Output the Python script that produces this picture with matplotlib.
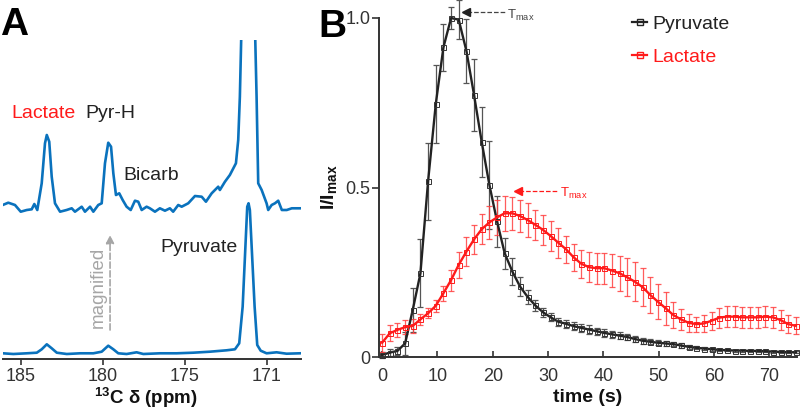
#!/usr/bin/env python3
"""13C spectrum (A) and pyruvate / lactate time curves (B)."""

import matplotlib
matplotlib.use("Agg")
import matplotlib.pyplot as plt
from matplotlib.lines import Line2D

plt.rcParams["font.family"] = ["Liberation Sans", "DejaVu Sans"]
plt.rcParams["mathtext.fontset"] = "custom"
plt.rcParams["mathtext.rm"] = "Liberation Sans"
plt.rcParams["mathtext.bf"] = "Liberation Sans:bold"

# ---- panel A: spectra (ppm, intensity in arbitrary units) ----
upper_ppm = [186.10, 185.76, 185.35, 185.00, 184.63, 184.33, 184.17, 183.99, 183.72,
             183.52, 183.41, 183.26, 183.11, 182.91, 182.60, 182.20, 181.89, 181.69,
             181.28, 181.08, 180.77, 180.57, 180.27, 180.06, 179.86, 179.66, 179.49,
             179.35, 179.19, 178.99, 178.78, 178.54, 178.29, 178.03, 177.83, 177.62,
             177.32, 177.12, 176.81, 176.51, 176.20, 175.90, 175.70, 175.39, 175.18,
             174.78, 174.37, 173.96, 173.70, 173.35, 172.95, 172.85, 172.54, 172.24,
             171.87, 171.73, 171.63, 171.55, 171.14, 170.69, 170.61, 170.51, 170.30,
             170.00, 169.90, 169.69, 169.49, 169.29, 169.07, 168.77, 168.46, 167.96]
upper_int = [154.3, 156.6, 154.3, 147.6, 149.3, 150.0, 155.3, 149.3, 176.0,
             216.0, 224.3, 217.6, 182.6, 156.0, 147.6, 149.3, 151.0, 147.6,
             152.6, 147.6, 152.6, 147.6, 154.3, 156.0, 196.0, 216.6, 212.6,
             186.0, 164.3, 166.0, 159.3, 152.6, 149.3, 158.6, 157.6, 149.3,
             152.6, 151.0, 147.6, 151.0, 148.6, 151.0, 147.6, 154.3, 152.6,
             156.0, 163.3, 162.6, 157.6, 166.0, 172.6, 169.3, 177.6, 184.3,
             196.0, 219.3, 262.6, 319.3, 700.0, 319.3, 262.6, 176.0, 169.3,
             156.0, 149.3, 154.3, 156.0, 158.6, 149.3, 149.3, 151.0, 151.0]

lower_ppm = [186.10, 185.45, 184.63, 184.02, 183.72, 183.41, 183.11, 182.80, 182.19,
             181.38, 180.57, 180.06, 179.66, 179.35, 179.05, 178.54, 177.93, 177.52,
             176.51, 175.49, 174.48, 173.46, 172.44, 171.93, 171.67, 171.46, 171.32,
             171.18, 171.10, 171.02, 170.88, 170.73, 170.57, 170.36, 170.00, 169.39,
             168.78, 167.97]
lower_int = [6.0, 5.3, 6.0, 6.6, 10.0, 15.0, 11.0, 6.6, 5.3,
             6.0, 6.0, 7.6, 13.6, 10.0, 6.0, 5.3, 7.0, 5.3,
             6.0, 6.0, 6.6, 7.6, 9.0, 10.0, 16.0, 52.6, 102.6,
             152.6, 156.0, 149.3, 102.6, 52.6, 14.3, 8.6, 6.0, 7.0,
             5.6, 6.0]

ppm_ticks = [185, 180, 175, 170]
ppm_tick_labels = ["185", "180", "175", "171"]

# ---- panel B: normalised signal vs time ----
time_s = [0.0, 1.39, 2.77, 4.16, 5.54, 6.93, 8.31, 9.70, 11.08, 12.47, 13.85,
          15.24, 16.62, 18.01, 19.39, 20.78, 22.16, 23.55, 24.93, 26.32, 27.70,
          29.09, 30.47, 31.86, 33.24, 34.63, 36.01, 37.40, 38.78, 40.17, 41.55,
          42.94, 44.32, 45.71, 47.09, 48.48, 49.86, 51.25, 52.63, 54.02, 55.40,
          56.79, 58.17, 59.56, 60.94, 62.33, 63.71, 65.10, 66.48, 67.87, 69.25,
          70.64, 72.02, 73.41, 74.79]

pyruvate = [0.006, 0.013, 0.018, 0.040, 0.139, 0.247, 0.518, 0.746, 0.913, 1.000, 0.995,
            0.903, 0.773, 0.634, 0.508, 0.400, 0.306, 0.252, 0.208, 0.177, 0.152,
            0.132, 0.117, 0.104, 0.098, 0.091, 0.086, 0.081, 0.076, 0.071, 0.067,
            0.063, 0.059, 0.053, 0.048, 0.045, 0.042, 0.040, 0.038, 0.034, 0.030,
            0.027, 0.025, 0.023, 0.021, 0.020, 0.019, 0.019, 0.018, 0.018, 0.017,
            0.016, 0.015, 0.014, 0.014]
pyruvate_err = [0.008, 0.010, 0.012, 0.035, 0.064, 0.100, 0.113, 0.114, 0.069, 0.033, 0.058,
                0.094, 0.107, 0.102, 0.130, 0.076, 0.045, 0.039, 0.028, 0.020, 0.016,
                0.013, 0.012, 0.012, 0.012, 0.012, 0.012, 0.012, 0.011, 0.011, 0.011,
                0.010, 0.010, 0.009, 0.009, 0.008, 0.008, 0.007, 0.007, 0.006, 0.005,
                0.004, 0.004, 0.004, 0.003, 0.003, 0.003, 0.003, 0.003, 0.003, 0.003,
                0.003, 0.003, 0.003, 0.003]

lactate = [0.042, 0.070, 0.080, 0.088, 0.092, 0.111, 0.129, 0.151, 0.188, 0.227, 0.272,
           0.311, 0.347, 0.377, 0.397, 0.412, 0.424, 0.424, 0.416, 0.404, 0.390,
           0.375, 0.357, 0.337, 0.318, 0.294, 0.275, 0.265, 0.262, 0.262, 0.255,
           0.247, 0.235, 0.222, 0.206, 0.183, 0.163, 0.144, 0.124, 0.111, 0.101,
           0.097, 0.099, 0.107, 0.116, 0.119, 0.119, 0.117, 0.117, 0.117, 0.119,
           0.117, 0.109, 0.097, 0.092]
lactate_err = [0.026, 0.023, 0.021, 0.021, 0.021, 0.017, 0.015, 0.018, 0.022, 0.031, 0.039,
               0.044, 0.042, 0.044, 0.049, 0.052, 0.052, 0.049, 0.048, 0.050, 0.045,
               0.044, 0.044, 0.044, 0.040, 0.040, 0.042, 0.044, 0.046, 0.046, 0.048,
               0.052, 0.056, 0.058, 0.056, 0.054, 0.051, 0.049, 0.037, 0.030, 0.027,
               0.022, 0.025, 0.027, 0.030, 0.030, 0.030, 0.030, 0.030, 0.030, 0.031,
               0.030, 0.030, 0.027, 0.025]

BLUE = "#0a72bd"
RED = "#ff1a1a"
DARK = "#222222"


def plot_spectra(ax):
    ax.plot(upper_ppm, upper_int, color=BLUE, lw=1.9, solid_joinstyle="round")
    ax.plot(lower_ppm, lower_int, color=BLUE, lw=1.9, solid_joinstyle="round")
    ax.set_xlim(186.1, 167.9)
    ax.set_ylim(0, 319.3)
    ax.set_xticks(ppm_ticks)
    ax.set_xticklabels(ppm_tick_labels)
    ax.set_yticks([])
    for side in ("left", "right", "top"):
        ax.spines[side].set_visible(False)
    ax.spines["bottom"].set_linewidth(1.4)
    ax.spines["bottom"].set_color("#333333")
    ax.tick_params(axis="x", direction="out", length=4, width=1.2, pad=2,
                   labelsize=13, colors="#333333")
    ax.set_xlabel(r"$^{\mathbf{13}}$C δ (ppm)", fontsize=13.5, fontweight="bold",
                  color="#111111", va="top")
    ax.xaxis.set_label_coords(0.48, (359.3 - 385) / 319.3)
    ax.patch.set_alpha(0)

    ax.text(185.55, 241.3, "Lactate", color=RED, fontsize=14, va="baseline")
    ax.text(181.08, 241.3, "Pyr-H", color=DARK, fontsize=14, va="baseline")
    ax.text(178.76, 179.3, "Bicarb", color=DARK, fontsize=14, va="baseline")
    ax.text(176.51, 107.3, "Pyruvate", color=DARK, fontsize=14, va="baseline")
    ax.text(180.26, 72.3, "magnified", color="#a6a6a6", fontsize=13.5,
            rotation=90, ha="center", va="center")
    ax.annotate("", xy=(179.55, 124.3), xytext=(179.55, 29.3),
                arrowprops=dict(arrowstyle="-|>", ls="--", color="#a6a6a6",
                                lw=1.2, mutation_scale=12, shrinkA=0, shrinkB=0))


def plot_curves(ax):
    ax.errorbar(time_s, pyruvate, yerr=pyruvate_err, fmt="none", ecolor="#555555",
                elinewidth=0.9, capsize=2.5, capthick=0.9, clip_on=False)
    ax.errorbar(time_s, lactate, yerr=lactate_err, fmt="none", ecolor="#ff4040",
                elinewidth=0.9, capsize=2.5, capthick=0.9, alpha=0.85, clip_on=False)
    ax.plot(time_s, pyruvate, color=DARK, lw=1.7, marker="s", ms=3.6, mfc="none",
            mec="#333333", mew=0.7, clip_on=False)
    ax.plot(time_s, lactate, color=RED, lw=1.7, marker="s", ms=3.6, mfc="none",
            mec=RED, mew=0.7, clip_on=False)

    ax.set_xlim(-0.56, 75.0)
    ax.set_ylim(0, 1.0)
    ax.set_xticks([0, 10, 20, 30, 40, 50, 60, 70])
    ax.set_yticks([0, 0.5, 1.0])
    ax.set_yticklabels(["0", "0.5", "1.0"])
    for side in ("right", "top"):
        ax.spines[side].set_visible(False)
    for side in ("left", "bottom"):
        ax.spines[side].set_linewidth(1.4)
        ax.spines[side].set_color("#333333")
    ax.tick_params(axis="x", direction="in", length=4, width=1.2, pad=8,
                   labelsize=13, colors="#333333")
    ax.tick_params(axis="y", direction="out", length=5, width=1.2, pad=1,
                   labelsize=13, colors="#333333")
    ax.set_xlabel("time (s)", fontsize=14, fontweight="bold", labelpad=3,
                  color="#111111")
    ax.set_ylabel(r"I/I$_{\mathbf{max}}$", fontsize=14, fontweight="bold",
                  labelpad=4, color="#111111")
    ax.patch.set_alpha(0)

    # T_max markers
    ax.plot([15.35, 22.2], [1.017, 1.017], ls="--", color="#444444", lw=0.9,
            clip_on=False)
    ax.plot(15.2, 1.017, marker="<", ms=5.5, color="#222222", clip_on=False)
    ax.text(22.5, 0.998, r"T$_{\mathrm{max}}$", fontsize=9.5, color="#444444",
            va="baseline")
    ax.plot([24.75, 31.56], [0.491, 0.491], ls="--", color=RED, lw=0.9)
    ax.plot(24.6, 0.491, marker="<", ms=5.5, color=RED)
    ax.text(32.16, 0.473, r"T$_{\mathrm{max}}$", fontsize=9.5, color=RED,
            va="baseline")

    handles = [Line2D([], [], color=DARK, lw=1.6, marker="s", ms=5, mfc="none",
                      mec=DARK, mew=1.0),
               Line2D([], [], color=RED, lw=1.6, marker="s", ms=5, mfc="none",
                      mec=RED, mew=1.0)]
    leg = ax.legend(handles, ["Pyruvate", "Lactate"], loc="upper left",
                    bbox_to_anchor=(0.605, 1.009), frameon=False, fontsize=14,
                    borderaxespad=0, borderpad=0,
                    handlelength=0.8, handletextpad=0.25, labelspacing=0.8)
    leg.get_texts()[0].set_color(DARK)
    leg.get_texts()[1].set_color(RED)


def main():
    fig = plt.figure(figsize=(8.0, 4.09), dpi=100)
    ax_a = fig.add_axes([2.7 / 800, (409 - 359.3) / 409, 298.3 / 800, 319.3 / 409])
    ax_b = fig.add_axes([379 / 800, (409 - 357) / 409, 418 / 800, 339 / 409])
    plot_spectra(ax_a)
    plot_curves(ax_b)

    fig.text(0.0, 1 - 7 / 409, "A", fontsize=28, fontweight="bold", va="top", ha="left")
    fig.text(318 / 800, 1 - 9 / 409, "B", fontsize=28, fontweight="bold", va="top",
             ha="left")
    fig.savefig("out.png", dpi=100)


if __name__ == "__main__":
    main()
